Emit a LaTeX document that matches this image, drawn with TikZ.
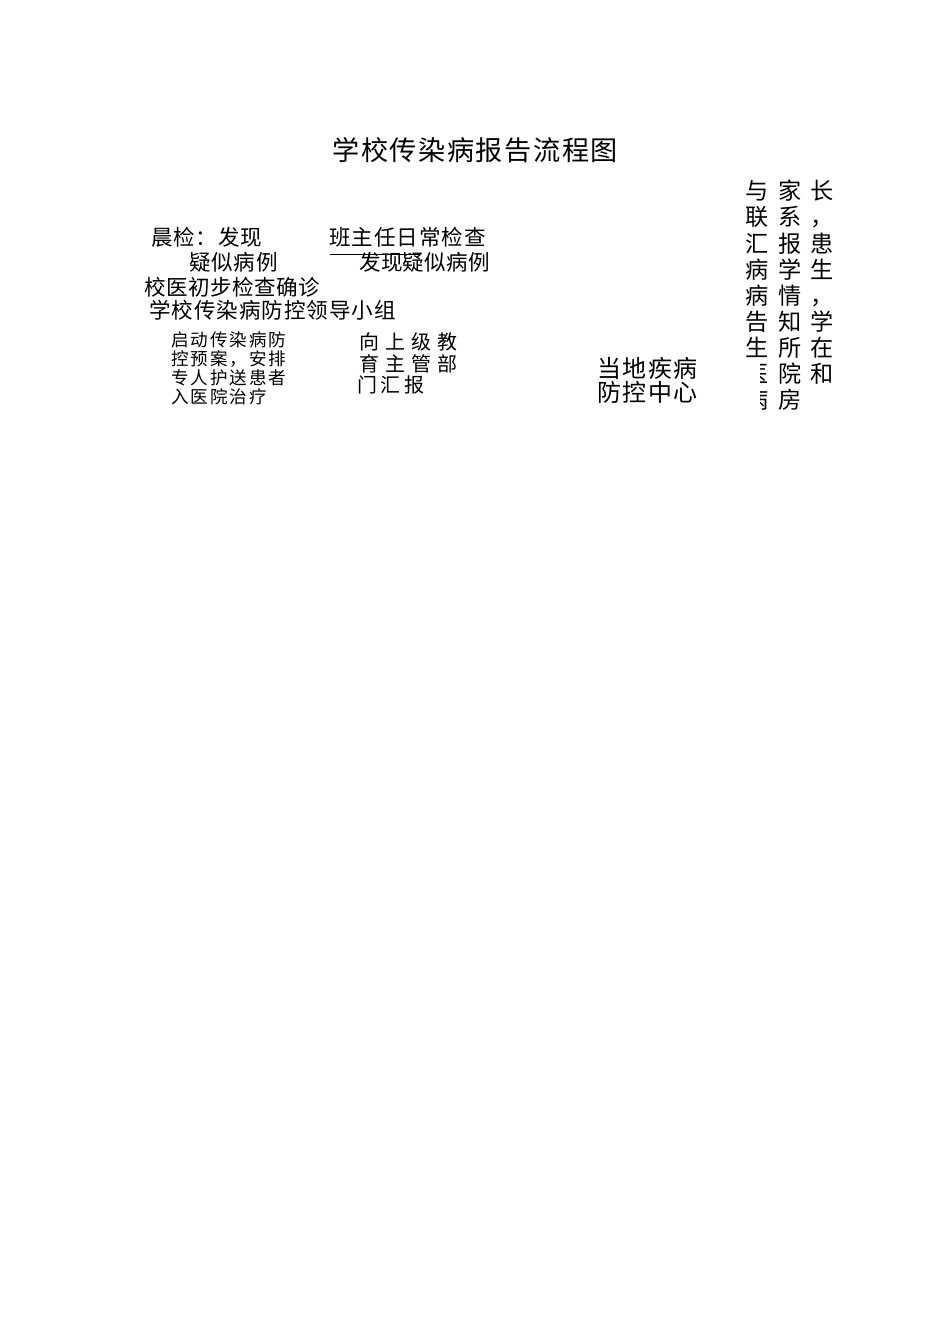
\documentclass[tikz,border=0pt]{standalone}
\usepackage{fontspec}
\setmainfont{Noto Sans CJK SC}
\newlength\pxu
\setlength\pxu{0.6264pt}
\makeatletter
\newcommand\pitched[2]{\@tfor\pch:=#2\do{\makebox[#1]{\pch}}}
\makeatother
\newcommand\fsz[1]{\fontsize{#1}{#1}\selectfont}
\tikzset{
  txt/.style={anchor=base west, inner sep=0pt, outer sep=0pt, text=black},
  ttl/.style={txt, font=\fsz{17pt}},
  big/.style={txt, font=\fsz{13.5pt}},
  sml/.style={txt, font=\fsz{11pt}},
  mid/.style={txt, font=\fsz{12.5pt}},
  cdc/.style={txt, font=\fsz{15pt}},
  col/.style={txt, font=\fsz{14.5pt}},
  thinline/.style={draw=black, line width=0.6pt}
}
\begin{document}
\begin{tikzpicture}[x=0.6264pt, y=-0.6264pt]
\useasboundingbox (0,0) rectangle (950,1344);
\fill[white] (0,0) rectangle (950,1344);

\node[ttl] (title) at (331.65,160.3) {\pitched{28.7\pxu}{学校传染病报告流程图}};

\node[big] (a1) at (150.8,245.7) {\pitched{22.35\pxu}{晨检：发现}};
\node[big] (a2) at (188.8,270.2) {\pitched{22.35\pxu}{疑似病例}};
\node[big] (a3) at (143.95,295.7) {\pitched{22.1\pxu}{校医初步检查确诊}};
\node[big] (a4) at (148.75,318.2) {\pitched{22.5\pxu}{学校传染病防控领导小组}};

\node[big] (b1) at (328.75,245.2) {\pitched{22.5\pxu}{班主任日常检查}};
\node[big] (b2) at (359.1,270.2) {\pitched{21.8\pxu}{发现疑似病例}};
\coordinate (l1) at (330,254.5);
\coordinate (l2) at (420,254.5);
\draw[thinline] (l1) -- (l2);

\node[sml] (c1) at (170.25,346.7) {\pitched{19.5\pxu}{启动传染病防}};
\node[sml] (c2) at (170.25,365.7) {\pitched{19.5\pxu}{控预案，安排}};
\node[sml] (c3) at (170.25,384.7) {\pitched{19.5\pxu}{专人护送患者}};
\node[sml] (c4) at (170.25,403.7) {\pitched{19.5\pxu}{入医院治疗}};

\node[mid] (d1) at (356,349.1) {\pitched{26\pxu}{向上级教}};
\node[mid] (d2) at (356,371.1) {\pitched{26\pxu}{育主管部}};
\node[mid] (d3) at (355.85,392.6) {\pitched{23.3\pxu}{门汇报}};

\node[cdc] (e1) at (596.85,377.1) {\pitched{25.3\pxu}{当地疾病}};
\node[cdc] (e2) at (596.85,401.1) {\pitched{25.3\pxu}{防控中心}};

\node[col] (v1) at (741.25,199.8) {\pitched{32.5\pxu}{与家长}};
\node[col] (v2) at (741.25,225.9) {\pitched{32.5\pxu}{联系，}};
\node[col] (v3) at (741.25,252.0) {\pitched{32.5\pxu}{汇报患}};
\node[col] (v4) at (741.25,278.1) {\pitched{32.5\pxu}{病学生}};
\node[col] (v5) at (741.25,304.2) {\pitched{32.5\pxu}{病情，}};
\node[col] (v6) at (741.25,330.3) {\pitched{32.5\pxu}{告知学}};
\node[col] (v7) at (741.25,356.4) {\pitched{32.5\pxu}{生所在}};
\begin{scope}
  \clip (760,358) rectangle (860,420);
  \node[col] (v8) at (741.25,382.5) {\pitched{32.5\pxu}{医院和}};
  \node[col] (v9) at (741.25,408.6) {\pitched{32.5\pxu}{病房}};
\end{scope}
\end{tikzpicture}
\end{document}
